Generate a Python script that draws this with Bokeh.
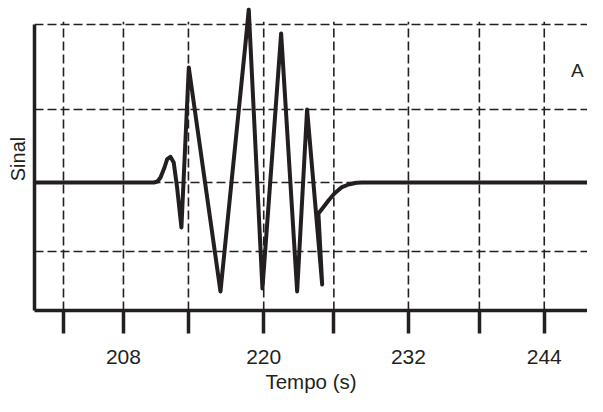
from bokeh.plotting import figure
from bokeh.models import Span, FixedTicker, Label, Range1d
from bokeh.embed import file_html
from bokeh.resources import INLINE

# ---- data ----
tempo = [200.4, 210.6, 210.91, 211.17, 211.51, 211.74, 212.02, 212.30, 212.59, 212.96,
         213.59, 216.30, 218.44, 218.72, 219.89, 221.49, 222.86, 223.71, 225.00,
         224.68, 225.02, 225.54, 226.05, 226.65, 227.25, 227.93, 228.44, 249.06]
sinal = [0.0, 0.0, 0.014, 0.071, 0.214, 0.333, 0.367, 0.286, -0.071, -0.643,
         1.643, -1.557, 1.986, 2.471, -1.514, 2.129, -1.557, 1.043, -1.457,
         -0.443, -0.371, -0.257, -0.157, -0.071, -0.029, -0.004, 0.0, 0.0]

x_ticks = [202.87, 208, 213.56, 220, 226, 232.38, 238.45, 244]
x_tick_labels = ["", "208", "", "220", "", "232", "", "244"]
y_grid = [-0.986, 0.0, 1.043, 2.257]

x_start, x_end = 200.39, 247.70
y_start, y_end = -1.829, 2.5

INK = "#231f20"
FONT = "Liberation Sans"

p = figure(width=587, height=396, output_backend="svg", toolbar_location=None,
           x_range=Range1d(x_start, x_end), y_range=Range1d(y_start, y_end),
           min_border_left=34, min_border_right=0, min_border_top=7, min_border_bottom=86)
p.outline_line_color = None
p.xgrid.visible = False
p.ygrid.visible = False

# horizontal dashed grid
for yv in y_grid:
    p.add_layout(Span(location=yv, dimension="width", line_color=INK,
                      line_width=1.6, line_dash="9 4", level="underlay"))

# vertical dashed grid (from the x ticks up to top grid line)
p.segment(x0=x_ticks, y0=[y_start] * len(x_ticks), x1=x_ticks,
          y1=[max(y_grid) + 0.04] * len(x_ticks),
          line_color=INK, line_width=1.6, line_dash="9 4")

# signal
p.line(tempo, sinal, line_color=INK, line_width=4, line_join="round")

# x axis
xa = p.xaxis[0]
xa.ticker = FixedTicker(ticks=x_ticks)
xa.major_label_overrides = {t: l for t, l in zip(x_ticks, x_tick_labels)}
xa.axis_line_width = 3.5
xa.axis_line_color = INK
xa.major_tick_line_width = 3.5
xa.major_tick_line_color = INK
xa.major_tick_in = 0
xa.major_tick_out = 23
xa.minor_tick_line_color = None
xa.major_label_standoff = 16
xa.major_label_text_font = FONT
xa.major_label_text_font_size = "21px"
xa.major_label_text_color = INK
xa.axis_label = "Tempo (s)"
xa.axis_label_text_font = FONT
xa.axis_label_text_font_size = "20.5px"
xa.axis_label_text_font_style = "normal"
xa.axis_label_text_color = INK
xa.axis_label_standoff = 3

# y axis
ya = p.yaxis[0]
ya.ticker = FixedTicker(ticks=[])
ya.bounds = (y_start, max(y_grid))
ya.axis_line_width = 3.5
ya.axis_line_color = INK
ya.major_tick_line_color = None
ya.minor_tick_line_color = None
ya.axis_label = "Sinal"
ya.axis_label_text_font = FONT
ya.axis_label_text_font_size = "20px"
ya.axis_label_text_font_style = "normal"
ya.axis_label_text_color = INK
ya.axis_label_standoff = 6

p.add_layout(Label(x=246.84, y=1.60, text="A", text_font=FONT, text_font_size="19px",
                   text_color=INK, text_align="center", text_baseline="middle"))

open("out.html", "w").write(file_html(p, INLINE))
